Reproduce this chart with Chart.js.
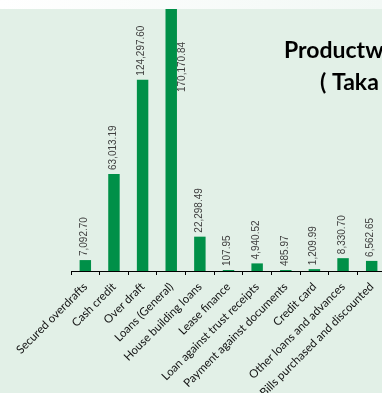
<!DOCTYPE html>
<html><head><meta charset="utf-8">
<script src="https://cdn.jsdelivr.net/npm/chart.js@4/dist/chart.umd.min.js"></script>
<style>
html,body{margin:0;padding:0;width:382px;height:393px;overflow:hidden;background:#E2F0E7;}
#wrap{position:relative;width:400px;height:393px;}
canvas{display:block;}
</style></head><body>
<div id="wrap"><canvas id="c" width="400" height="393"></canvas></div>
<script>
const categories = ["Secured overdrafts","Cash credit","Over draft","Loans (General)","House building loans","Lease finance","Loan against trust receipts","Payment against documents","Credit card","Other loans and advances","Bills purchased and discounted"];
const advances = [7092.70, 63013.19, 124297.60, 170170.84, 22298.49, 107.95, 4940.52, 485.97, 1209.99, 8330.70, 6562.65];
const titleLines = ["Productwise Advances", "( Taka in Million)"];

const fmt = v => v.toLocaleString('en-US',{minimumFractionDigits:2, maximumFractionDigits:2});

const decor = {
  id:'decor',
  beforeDraw(chart){
    const {ctx,width,height} = chart;
    ctx.save();
    ctx.fillStyle='#E2F0E7'; ctx.fillRect(0,0,width,height);
    ctx.restore();
  },
  afterDatasetsDraw(chart){
    const ctx = chart.ctx;
    const meta = chart.getDatasetMeta(0);
    ctx.save();
    ctx.font = '10px "Liberation Sans", Arial, sans-serif';
    ctx.fillStyle = '#404040';
    meta.data.forEach((bar,i)=>{
      const txt = fmt(advances[i]);
      const w = ctx.measureText(txt).width;
      let x = bar.x - 1, y = bar.y - 4;
      if (y - w < chart.chartArea.top) { x = bar.x + bar.width/2 + 5; y = bar.y + 83; }
      ctx.save();
      ctx.translate(x,y); ctx.rotate(-Math.PI/2);
      ctx.textAlign='left'; ctx.textBaseline='middle';
      ctx.fillText(txt,0,0);
      ctx.restore();
    });
    ctx.restore();
  },
  afterDraw(chart){
    const ctx = chart.ctx;
    ctx.save();
    const g = ctx.createLinearGradient(0,0,382,0);
    g.addColorStop(0,'#FFFFFF'); g.addColorStop(1,'#F2F8F5');
    ctx.fillStyle = g; ctx.fillRect(0,0,chart.width,9);
    ctx.font = 'bold 23px Lato, sans-serif';
    ctx.fillStyle = '#000';
    ctx.textAlign = 'left'; ctx.textBaseline = 'alphabetic';
    ctx.fillText(titleLines[0],284,58);
    ctx.fillText(titleLines[1],320,90);
    ctx.restore();
  }
};

new Chart(document.getElementById('c'), {
  type:'bar',
  data:{
    labels: categories,
    datasets:[{
      data: advances,
      backgroundColor:'#009048',
      borderWidth:0,
      barPercentage:0.4,
      categoryPercentage:1,
      minBarLength:1
    }]
  },
  options:{
    responsive:false,
    animation:false,
    layout:{padding:{left:71,right:14,top:9,bottom:0}},
    plugins:{legend:{display:false},tooltip:{enabled:false},title:{display:false}},
    scales:{
      y:{display:false, min:0, max:Math.max(...advances)},
      x:{
        grid:{display:true, drawOnChartArea:false, drawTicks:true, tickLength:4, color:'#000', offset:true},
        border:{display:true, color:'#000', width:1},
        ticks:{autoSkip:false, maxRotation:45, minRotation:45, color:'#111', font:{family:'Lato', size:11.5}, padding:5},
        afterFit(scale){ scale.height = 122; }
      }
    }
  },
  plugins:[decor]
});
</script>
</body></html>
